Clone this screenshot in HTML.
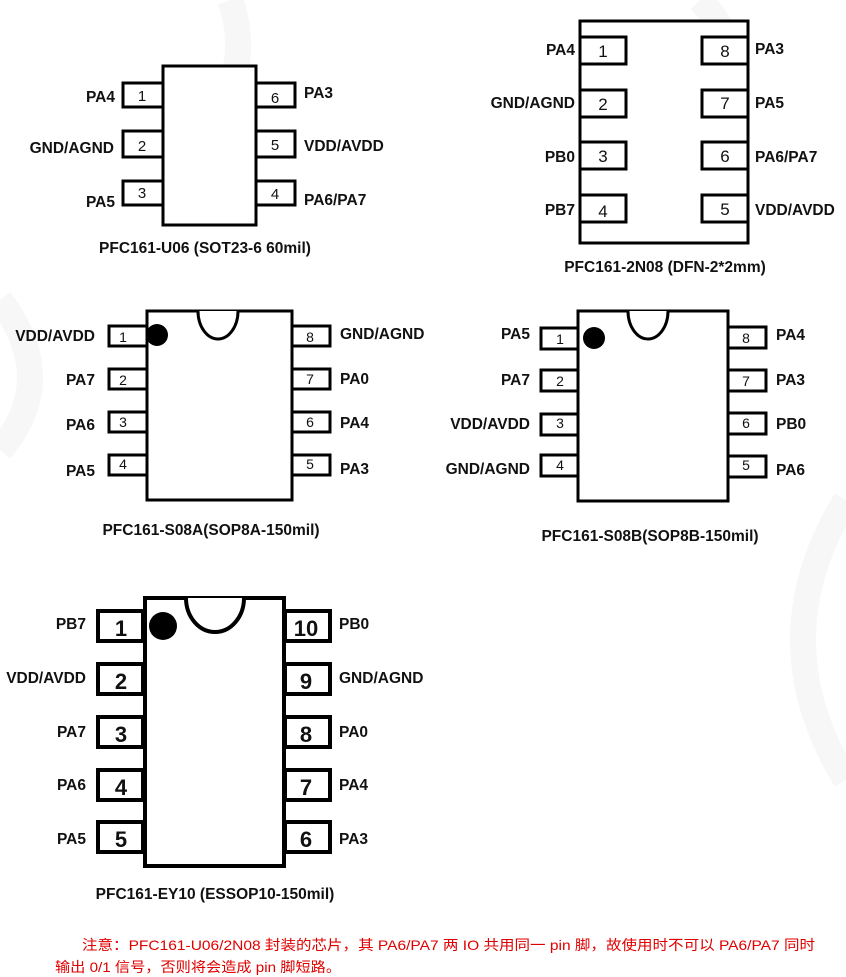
<!DOCTYPE html>
<html><head><meta charset="utf-8"><style>
html,body{margin:0;padding:0;background:#fff;}
svg{display:block;}
text{font-family:"Liberation Sans",Arial,sans-serif;}
.l{font-weight:bold;font-size:15.5px;fill:#111;}
.n{font-size:15px;fill:#111;}
.cap{font-weight:bold;font-size:15.5px;fill:#111;text-anchor:middle;}
.red{font-family:"Liberation Sans","Noto Sans CJK SC",sans-serif;font-size:14px;fill:#e00000;}
</style></head><body>
<svg width="846" height="977" viewBox="0 0 846 977" xmlns="http://www.w3.org/2000/svg">
<g fill="none" stroke="#f7f7f7" stroke-width="26">
<path d="M230 0 Q260 80 180 170"/>
<path d="M700 0 Q760 60 700 160"/>
<path d="M0 300 Q60 380 0 450"/>
<path d="M846 500 Q760 640 846 780"/>
</g>

<!-- SOT23-6 -->
<g fill="#fff" stroke="#000" stroke-width="3">
<rect x="123" y="83" width="40" height="24"/>
<rect x="123" y="131" width="40" height="26"/>
<rect x="123" y="181" width="40" height="24"/>
<rect x="256" y="83" width="39" height="24"/>
<rect x="256" y="131" width="39" height="26"/>
<rect x="256" y="181" width="39" height="24"/>
<rect x="163" y="66" width="93" height="159"/>
</g>
<g class="n" text-anchor="middle">
<text x="142" y="101">1</text><text x="142" y="151">2</text><text x="142" y="198">3</text>
<text x="275" y="103">6</text><text x="275" y="150">5</text><text x="275" y="199">4</text>
</g>
<g class="l" text-anchor="end">
<text x="115" y="102">PA4</text><text x="114" y="153">GND/AGND</text><text x="115" y="207">PA5</text>
</g>
<g class="l">
<text x="304" y="98">PA3</text><text x="304" y="151">VDD/AVDD</text><text x="304" y="205">PA6/PA7</text>
</g>
<text class="cap" x="205" y="253">PFC161-U06 (SOT23-6 60mil)</text>

<!-- DFN -->
<g fill="#fff" stroke="#000" stroke-width="3">
<rect x="580" y="21" width="168" height="222"/>
<rect x="580" y="37" width="46" height="27"/>
<rect x="580" y="90" width="46" height="27"/>
<rect x="580" y="142" width="46" height="27"/>
<rect x="580" y="195" width="46" height="27"/>
<rect x="702" y="37" width="46" height="27"/>
<rect x="702" y="90" width="46" height="27"/>
<rect x="702" y="142" width="46" height="27"/>
<rect x="702" y="195" width="46" height="27"/>
</g>
<g class="n" text-anchor="middle" style="font-size:17px">
<text x="603" y="57">1</text><text x="603" y="110">2</text><text x="603" y="162">3</text><text x="603" y="217">4</text>
<text x="725" y="57">8</text><text x="725" y="109">7</text><text x="725" y="162">6</text><text x="725" y="215">5</text>
</g>
<g class="l" text-anchor="end">
<text x="575" y="55">PA4</text><text x="575" y="108">GND/AGND</text><text x="575" y="162">PB0</text><text x="575" y="215">PB7</text>
</g>
<g class="l">
<text x="755" y="54">PA3</text><text x="755" y="108">PA5</text><text x="755" y="162">PA6/PA7</text><text x="755" y="215">VDD/AVDD</text>
</g>
<text class="cap" x="665" y="272">PFC161-2N08 (DFN-2*2mm)</text>

<!-- SOP8A -->
<g fill="#fff" stroke="#000" stroke-width="3">
<rect x="109" y="326" width="38" height="20"/>
<rect x="109" y="369" width="38" height="20"/>
<rect x="109" y="412" width="38" height="20"/>
<rect x="109" y="455" width="38" height="20"/>
<rect x="292" y="326" width="38" height="20"/>
<rect x="292" y="369" width="38" height="20"/>
<rect x="292" y="412" width="38" height="20"/>
<rect x="292" y="455" width="38" height="20"/>
<rect x="147" y="311" width="145" height="189"/>
<path d="M198 311 A20 28 0 0 0 238 311"/>
</g>
<circle cx="157" cy="335" r="11" fill="#000"/>
<g class="n" text-anchor="middle" style="font-size:14px">
<text x="123" y="342">1</text><text x="123" y="385">2</text><text x="123" y="427">3</text><text x="123" y="469">4</text>
<text x="310" y="342">8</text><text x="310" y="384">7</text><text x="310" y="427">6</text><text x="310" y="469">5</text>
</g>
<g class="l" text-anchor="end">
<text x="95" y="341">VDD/AVDD</text><text x="95" y="385">PA7</text><text x="95" y="430">PA6</text><text x="95" y="476">PA5</text>
</g>
<g class="l">
<text x="340" y="339">GND/AGND</text><text x="340" y="384">PA0</text><text x="340" y="428">PA4</text><text x="340" y="474">PA3</text>
</g>
<text class="cap" x="211" y="535">PFC161-S08A(SOP8A-150mil)</text>

<!-- SOP8B -->
<g fill="#fff" stroke="#000" stroke-width="3">
<rect x="541" y="328" width="37" height="21"/>
<rect x="541" y="370" width="37" height="21"/>
<rect x="541" y="414" width="37" height="21"/>
<rect x="541" y="455" width="37" height="21"/>
<rect x="728" y="327" width="38" height="21"/>
<rect x="728" y="370" width="38" height="21"/>
<rect x="728" y="413" width="38" height="21"/>
<rect x="728" y="456" width="38" height="21"/>
<rect x="578" y="311" width="150" height="190"/>
<path d="M628 311 A20 28 0 0 0 668 311"/>
</g>
<circle cx="594" cy="338" r="11" fill="#000"/>
<g class="n" text-anchor="middle" style="font-size:14px">
<text x="560" y="344">1</text><text x="560" y="386">2</text><text x="560" y="428">3</text><text x="560" y="470">4</text>
<text x="746" y="343">8</text><text x="746" y="386">7</text><text x="746" y="428">6</text><text x="746" y="470">5</text>
</g>
<g class="l" text-anchor="end">
<text x="530" y="339">PA5</text><text x="530" y="385">PA7</text><text x="530" y="429">VDD/AVDD</text><text x="530" y="474">GND/AGND</text>
</g>
<g class="l">
<text x="776" y="340">PA4</text><text x="776" y="385">PA3</text><text x="776" y="429">PB0</text><text x="776" y="475">PA6</text>
</g>
<text class="cap" x="650" y="541">PFC161-S08B(SOP8B-150mil)</text>

<!-- ESSOP10 -->
<g fill="#fff" stroke="#000" stroke-width="4">
<rect x="98" y="611" width="45" height="30"/>
<rect x="98" y="664" width="45" height="30"/>
<rect x="98" y="717" width="45" height="30"/>
<rect x="98" y="770" width="45" height="30"/>
<rect x="98" y="822" width="45" height="30"/>
<rect x="285" y="611" width="45" height="30"/>
<rect x="285" y="664" width="45" height="30"/>
<rect x="285" y="717" width="45" height="30"/>
<rect x="285" y="770" width="45" height="30"/>
<rect x="285" y="822" width="45" height="30"/>
<rect x="145" y="598" width="139" height="268"/>
<path d="M186 598 A29 34 0 0 0 244 598"/>
</g>
<circle cx="163" cy="626" r="14" fill="#000"/>
<g class="n" text-anchor="middle" style="font-size:22px;font-weight:bold">
<text x="121" y="636">1</text><text x="121" y="689">2</text><text x="121" y="742">3</text><text x="121" y="795">4</text><text x="121" y="847">5</text>
<text x="306" y="636">10</text><text x="306" y="689">9</text><text x="306" y="742">8</text><text x="306" y="795">7</text><text x="306" y="847">6</text>
</g>
<g class="l" text-anchor="end">
<text x="86" y="629">PB7</text><text x="86" y="683">VDD/AVDD</text><text x="86" y="737">PA7</text><text x="86" y="790">PA6</text><text x="86" y="844">PA5</text>
</g>
<g class="l">
<text x="339" y="629">PB0</text><text x="339" y="683">GND/AGND</text><text x="339" y="737">PA0</text><text x="339" y="790">PA4</text><text x="339" y="844">PA3</text>
</g>
<text class="cap" x="215" y="899">PFC161-EY10 (ESSOP10-150mil)</text>

<text class="red" x="82" y="950" textLength="733" lengthAdjust="spacingAndGlyphs">注意：PFC161-U06/2N08 封装的芯片，其 PA6/PA7 两 IO 共用同一 pin 脚，故使用时不可以 PA6/PA7 同时</text>
<text class="red" x="55" y="972" textLength="286" lengthAdjust="spacingAndGlyphs">输出 0/1 信号，否则将会造成 pin 脚短路。</text>
</svg>
</body></html>
